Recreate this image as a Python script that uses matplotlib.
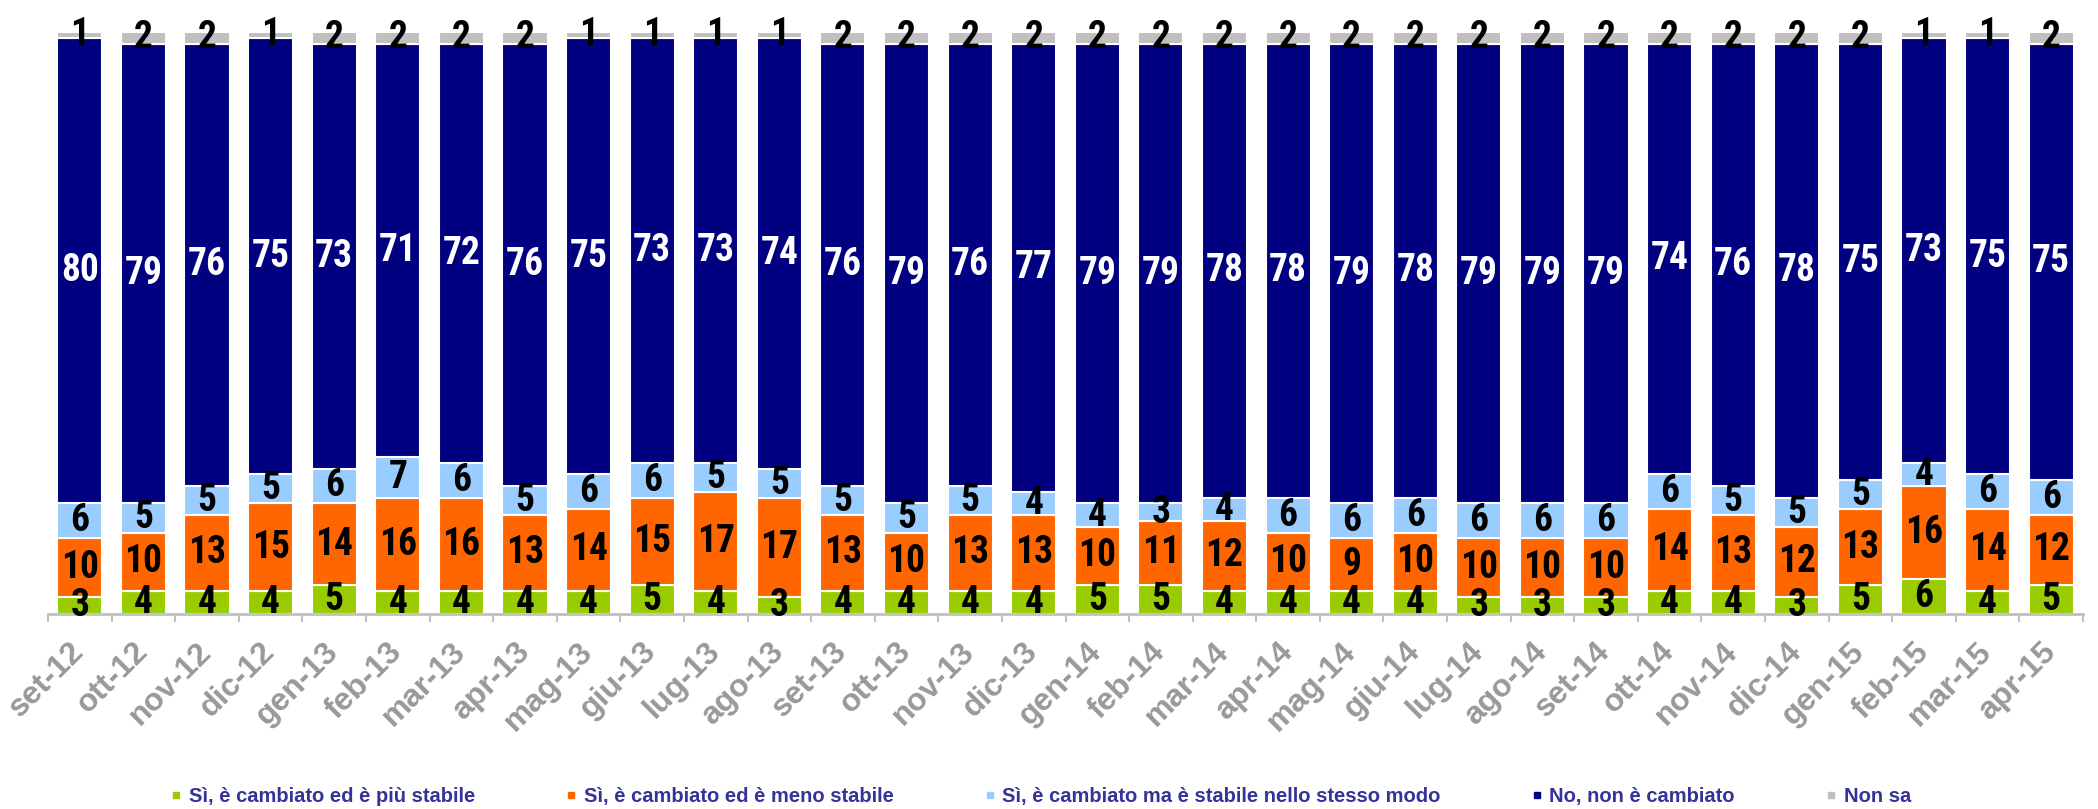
import matplotlib
matplotlib.use("Agg")
import matplotlib.pyplot as plt
from matplotlib import font_manager
from matplotlib.font_manager import FontProperties
from matplotlib.lines import Line2D
import numpy as np

categories = ["set-12", "ott-12", "nov-12", "dic-12", "gen-13", "feb-13", "mar-13", "apr-13",
              "mag-13", "giu-13", "lug-13", "ago-13", "set-13", "ott-13", "nov-13", "dic-13",
              "gen-14", "feb-14", "mar-14", "apr-14", "mag-14", "giu-14", "lug-14", "ago-14",
              "set-14", "ott-14", "nov-14", "dic-14", "gen-15", "feb-15", "mar-15", "apr-15"]

piu_stabile = [3, 4, 4, 4, 5, 4, 4, 4, 4, 5, 4, 3, 4, 4, 4, 4,
               5, 5, 4, 4, 4, 4, 3, 3, 3, 4, 4, 3, 5, 6, 4, 5]
meno_stabile = [10, 10, 13, 15, 14, 16, 16, 13, 14, 15, 17, 17, 13, 10, 13, 13,
                10, 11, 12, 10, 9, 10, 10, 10, 10, 14, 13, 12, 13, 16, 14, 12]
stesso_modo = [6, 5, 5, 5, 6, 7, 6, 5, 6, 6, 5, 5, 5, 5, 5, 4,
               4, 3, 4, 6, 6, 6, 6, 6, 6, 6, 5, 5, 5, 4, 6, 6]
non_cambiato = [80, 79, 76, 75, 73, 71, 72, 76, 75, 73, 73, 74, 76, 79, 76, 77,
                79, 79, 78, 78, 79, 78, 79, 79, 79, 74, 76, 78, 75, 73, 75, 75]
non_sa = [1, 2, 2, 1, 2, 2, 2, 2, 1, 1, 1, 1, 2, 2, 2, 2,
          2, 2, 2, 2, 2, 2, 2, 2, 2, 2, 2, 2, 2, 1, 1, 2]

series_labels = ["Sì, è cambiato ed è più stabile", "Sì, è cambiato ed è meno stabile",
                 "Sì, è cambiato ma è stabile nello stesso modo", "No, non è cambiato", "Non sa"]
series = [piu_stabile, meno_stabile, stesso_modo, non_cambiato, non_sa]
colors = ["#99CC00", "#FF6600", "#99CCFF", "#000080", "#C0C0C0"]
label_colors = ["black", "black", "black", "white", "black"]

available = {f.name for f in font_manager.fontManager.ttflist}
base = "Liberation Sans" if "Liberation Sans" in available else "DejaVu Sans"

# find a condensed / narrow bold sans for the in-bar numbers
num_prop = None
preferred = ["Liberation Sans Narrow", "Arial Narrow", "Roboto Condensed", "Open Sans Condensed",
             "Noto Sans Condensed", "DejaVu Sans Condensed"]
for nm in preferred:
    if nm in available:
        num_prop = FontProperties(family=nm, weight="bold", size=27)
        break
if num_prop is None:
    for f in font_manager.fontManager.ttflist:
        if f.stretch in ("condensed", "semi-condensed") and (f.weight in ("bold", 700) or
                                                               (isinstance(f.weight, int) and f.weight >= 600)):
            num_prop = FontProperties(fname=f.fname, size=27)
            break
if num_prop is None:
    num_prop = FontProperties(family=base, weight="bold", size=24)

fig = plt.figure(figsize=(20.98, 8.09), dpi=100)
ax = fig.add_axes([48 / 2098, 1 - 614 / 809, (2083 - 48) / 2098, (614 - 32) / 809])

x = np.arange(len(categories))
bottom = np.zeros(len(categories))
for vals, col, lc in zip(series, colors, label_colors):
    v = np.array(vals, dtype=float)
    ax.bar(x, v, bottom=bottom, width=0.71, color=col, edgecolor="white", linewidth=1.5, zorder=2)
    for xi, b, h in zip(x, bottom, v):
        ax.text(xi, b + h / 2, f"{int(h)}", ha="center", va="center", color=lc,
                fontproperties=num_prop, zorder=5, clip_on=False)
    bottom += v

ax.set_xlim(-0.5, len(categories) - 0.5)
ax.set_ylim(0, 100)
for s in ["left", "right", "top"]:
    ax.spines[s].set_visible(False)
ax.spines["bottom"].set_color("#C0C0C0")
ax.spines["bottom"].set_linewidth(2)
ax.spines["bottom"].set_zorder(3)
ax.set_yticks([])
ax.set_xticks(x)
ax.set_xticklabels(categories, rotation=45, ha="right", va="center", rotation_mode="anchor",
                   fontsize=23, fontweight="bold", color="#999999", family=base)
ax.tick_params(axis="x", which="major", length=0, pad=24)
ax.set_xticks(np.arange(-0.5, len(categories), 1.0), minor=True)
ax.tick_params(axis="x", which="minor", length=6, width=1.5, color="#C0C0C0")

handles = [Line2D([0], [0], marker="s", linestyle="none", markersize=5,
                  markerfacecolor=c, markeredgecolor=c) for c in colors]
leg = fig.legend(handles, series_labels, ncol=5, loc="center", bbox_to_anchor=(0.496, 0.016),
                 frameon=False, columnspacing=4.5, handlelength=0.6, handletextpad=0.3,
                 prop={"family": base, "weight": "bold", "size": 14.5})
for t in leg.get_texts():
    t.set_color("#333399")

fig.savefig("out.png", dpi=100)
